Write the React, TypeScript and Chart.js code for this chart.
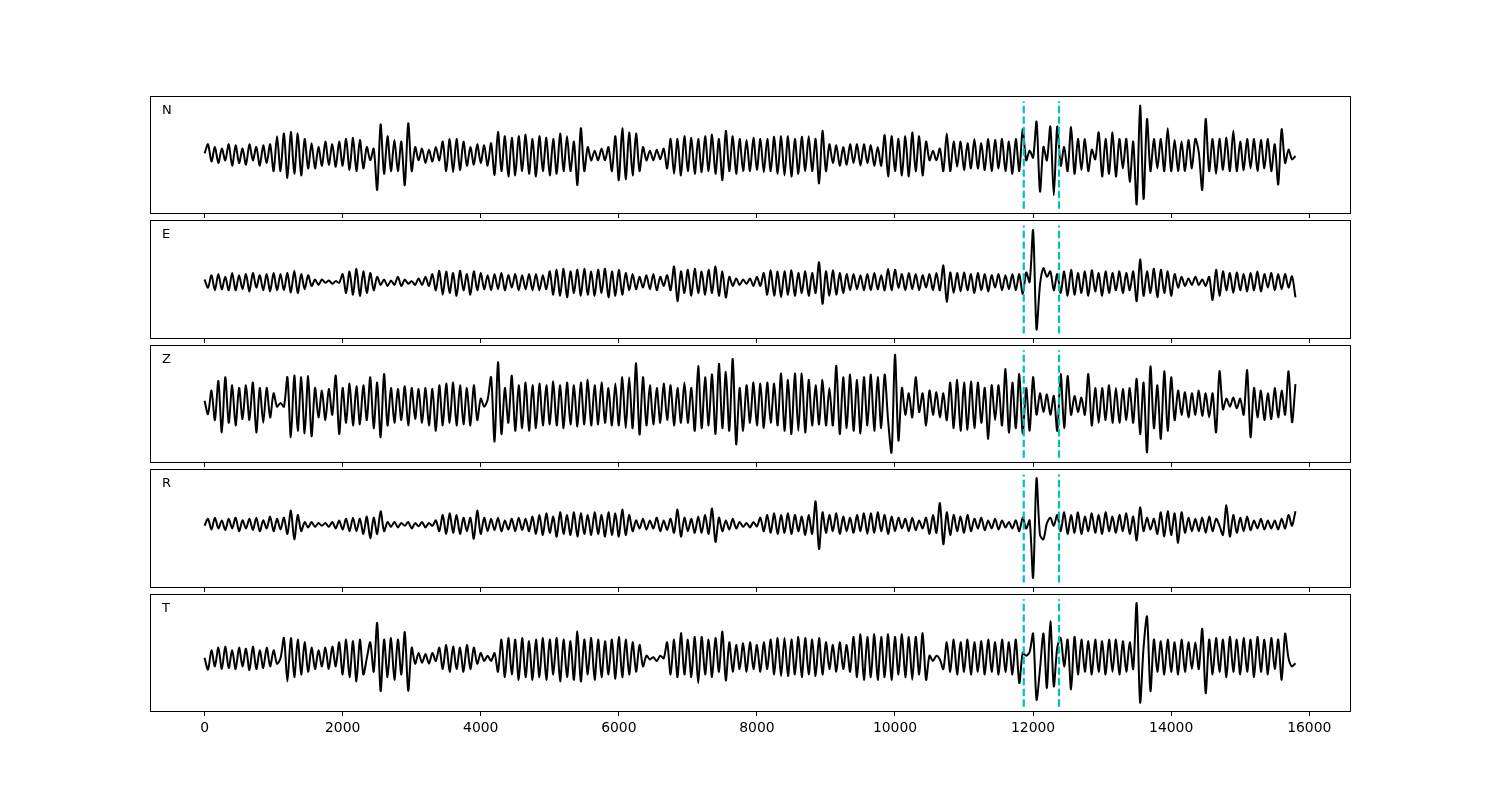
import React, { useEffect, useRef } from "react";
import { Chart, registerables } from "chart.js";

Chart.register(...registerables);

// ---- data ----
const SAMPLE_STEP = 50; // time units between samples
const X_TICKS = [0, 2000, 4000, 6000, 8000, 10000, 12000, 14000, 16000];
const PICKS = [11865, 12375];
const COMPONENTS = ["N", "E", "Z", "R", "T"];

const N_TRACE = [
  0.03, 0.2, -0.12, 0.15, -0.15, 0.12, -0.1, 0.2, -0.2, 0.18, -0.15, 0.12, -0.18, 0.2, -0.1, 0.15, -0.2, 0.18, -0.15, 0.2, -0.3, 0.35, -0.3, 0.4,
  -0.43, 0.43, -0.35, 0.4, -0.38, 0.3, -0.25, 0.22, -0.25, 0.15, -0.2, 0.25, -0.18, 0.2, -0.22, 0.25, -0.2, 0.3, -0.28, 0.32, -0.3, 0.28, -0.25, 0.15,
  -0.1, 0.12, -0.65, 0.57, -0.35, 0.35, -0.3, 0.28, -0.3, 0.25, -0.56, 0.59, -0.3, 0.15, -0.1, 0.12, -0.15, 0.1, -0.12, 0.15, -0.1, 0.25, -0.3, 0.3,
  -0.32, 0.3, -0.28, 0.25, -0.2, 0.15, -0.18, 0.2, -0.15, 0.18, -0.2, 0.22, -0.37, 0.43, -0.3, 0.35, -0.4, 0.32, -0.38, 0.35, -0.3, 0.38, -0.35, 0.3,
  -0.4, 0.35, -0.3, 0.32, -0.38, 0.3, -0.35, 0.4, -0.3, 0.35, -0.3, 0.25, -0.56, 0.5, -0.3, 0.15, -0.1, 0.08, -0.1, 0.12, -0.1, 0.15, -0.3, 0.35,
  -0.47, 0.5, -0.45, 0.42, -0.38, 0.4, -0.3, 0.15, -0.1, 0.08, -0.1, 0.1, -0.08, 0.12, -0.25, 0.3, -0.35, 0.3, -0.38, 0.35, -0.3, 0.32, -0.35, 0.3,
  -0.32, 0.35, -0.3, 0.38, -0.35, 0.3, -0.47, 0.45, -0.3, 0.35, -0.35, 0.3, -0.3, 0.28, -0.3, 0.32, -0.28, 0.3, -0.32, 0.3, -0.3, 0.34, -0.35, 0.35,
  -0.38, 0.35, -0.4, 0.3, -0.35, 0.34, -0.3, 0.35, -0.3, 0.3, -0.53, 0.45, -0.3, 0.2, -0.15, 0.18, -0.2, 0.15, -0.18, 0.2, -0.15, 0.2, -0.2, 0.2,
  -0.15, 0.18, -0.2, 0.15, -0.2, 0.37, -0.4, 0.35, -0.3, 0.3, -0.38, 0.35, -0.4, 0.42, -0.3, 0.35, -0.38, 0.25, -0.1, 0.08, -0.1, 0.12, -0.3, 0.4,
  -0.3, 0.25, -0.22, 0.25, -0.28, 0.22, -0.25, 0.3, -0.25, 0.22, -0.28, 0.3, -0.3, 0.28, -0.25, 0.3, -0.3, 0.25, -0.35, 0.3, -0.3, 0.48, -0.1, 0.08,
  -0.05, 0.62, -0.68, 0.15, -0.1, 0.53, -0.75, 0.53, -0.2, 0.15, -0.3, 0.52, -0.35, 0.3, -0.28, 0.3, -0.3, 0.1, -0.08, 0.42, -0.4, 0.3, -0.35, 0.42,
  -0.4, 0.3, -0.25, 0.3, -0.5, 0.25, -0.92, 0.92, -0.82, 0.67, -0.3, 0.3, -0.25, 0.3, -0.3, 0.5, -0.3, 0.28, -0.3, 0.25, -0.3, 0.28, -0.25, 0.3,
  0.05, -0.65, 0.67, -0.3, 0.3, -0.35, 0.3, -0.28, 0.32, -0.3, 0.45, -0.3, 0.25, -0.28, 0.3, -0.25, 0.3, -0.3, 0.28, -0.25, 0.3, -0.3, 0.2, -0.55,
  0.48, -0.15, 0.1, -0.08, -0.02,
];

const E_TRACE = [
  0.0, -0.15, 0.08, -0.2, 0.1, -0.18, 0.05, -0.2, 0.12, -0.2, 0.08, -0.18, 0.1, -0.22, 0.12, -0.15, 0.08, -0.2, 0.1, -0.22, 0.12, -0.2, 0.1, -0.2,
  0.12, -0.24, 0.16, -0.25, 0.1, -0.18, 0.08, -0.12, 0.0, -0.1, 0.0, -0.06, -0.02, -0.08, -0.03, -0.06, 0.1, -0.25, 0.15, -0.28, 0.2, -0.3, 0.15, -0.25,
  0.12, -0.2, 0.05, -0.1, 0.0, -0.12, -0.02, -0.1, 0.05, -0.12, 0.0, -0.08, -0.03, -0.1, 0.02, -0.1, 0.05, -0.12, 0.1, -0.2, 0.16, -0.28, 0.15, -0.25,
  0.12, -0.3, 0.16, -0.2, 0.1, -0.28, 0.15, -0.2, 0.12, -0.18, 0.08, -0.2, 0.1, -0.18, 0.12, -0.2, 0.08, -0.15, 0.1, -0.2, 0.08, -0.18, 0.1, -0.2,
  0.1, -0.2, 0.08, -0.18, 0.15, -0.28, 0.18, -0.3, 0.2, -0.33, 0.15, -0.25, 0.18, -0.3, 0.2, -0.28, 0.15, -0.3, 0.18, -0.25, 0.2, -0.33, 0.15, -0.3,
  0.18, -0.28, 0.12, -0.2, 0.1, -0.18, 0.05, -0.15, 0.08, -0.18, 0.1, -0.2, 0.05, -0.12, 0.08, -0.2, 0.24, -0.4, 0.15, -0.25, 0.18, -0.3, 0.2, -0.25,
  0.15, -0.28, 0.18, -0.25, 0.24, -0.3, 0.15, -0.33, 0.05, -0.12, 0.02, -0.1, 0.0, -0.08, 0.02, -0.12, 0.05, -0.12, 0.12, -0.28, 0.17, -0.3, 0.15, -0.33,
  0.15, -0.28, 0.17, -0.3, 0.12, -0.25, 0.15, -0.3, 0.12, -0.25, 0.32, -0.45, 0.15, -0.3, 0.17, -0.28, 0.12, -0.25, 0.1, -0.2, 0.1, -0.18, 0.08, -0.2,
  0.1, -0.2, 0.12, -0.18, 0.08, -0.2, 0.2, -0.2, 0.18, -0.15, 0.1, -0.2, 0.12, -0.18, 0.1, -0.2, 0.08, -0.15, 0.1, -0.2, 0.12, -0.2, 0.26, -0.41,
  0.13, -0.25, 0.12, -0.22, 0.13, -0.2, 0.1, -0.25, 0.12, -0.2, 0.1, -0.22, 0.08, -0.15, 0.1, -0.2, 0.08, -0.18, 0.1, -0.2, 0.1, -0.27, 0.13, -0.05,
  0.91, -0.92, -0.1, 0.21, 0.05, 0.15, -0.2, 0.1, -0.25, 0.15, -0.3, 0.18, -0.28, 0.12, -0.25, 0.15, -0.3, 0.17, -0.22, 0.12, -0.3, 0.15, -0.25, 0.12,
  -0.2, 0.15, -0.25, 0.12, -0.2, 0.15, -0.4, 0.37, -0.3, 0.15, -0.25, 0.2, -0.33, 0.18, -0.25, 0.15, -0.3, 0.1, -0.15, 0.05, -0.12, 0.02, -0.1, 0.05,
  -0.1, 0.0, -0.12, 0.05, -0.38, 0.18, -0.3, 0.15, -0.2, 0.12, -0.25, 0.13, -0.2, 0.1, -0.22, 0.12, -0.2, 0.15, -0.22, 0.1, -0.15, 0.12, -0.2, 0.1,
  -0.18, 0.1, -0.15, 0.06, -0.33,
];

const Z_TRACE = [
  0.06, -0.19, 0.25, -0.3, 0.43, -0.53, 0.5, -0.35, 0.35, -0.4, 0.3, -0.28, 0.35, -0.3, 0.4, -0.53, 0.3, -0.35, 0.3, -0.25, 0.2, -0.05, 0.02, -0.05,
  0.5, -0.62, 0.53, -0.5, 0.5, -0.55, 0.52, -0.6, 0.3, -0.25, 0.25, -0.3, 0.28, -0.2, 0.53, -0.56, 0.3, -0.35, 0.38, -0.4, 0.33, -0.38, 0.35, -0.3,
  0.5, -0.45, 0.4, -0.62, 0.56, -0.4, 0.3, -0.35, 0.28, -0.3, 0.33, -0.4, 0.3, -0.28, 0.28, -0.35, 0.3, -0.4, 0.28, -0.5, 0.35, -0.4, 0.38, -0.35,
  0.4, -0.4, 0.35, -0.38, 0.3, -0.4, 0.35, -0.3, 0.1, -0.05, 0.08, 0.5, -0.7, 0.78, -0.56, 0.3, -0.35, 0.53, -0.5, 0.35, -0.45, 0.4, -0.5, 0.35,
  -0.45, 0.38, -0.4, 0.35, -0.38, 0.42, -0.4, 0.35, -0.45, 0.4, -0.38, 0.35, -0.42, 0.4, -0.38, 0.45, -0.4, 0.35, -0.38, 0.4, -0.35, 0.3, -0.4, 0.38,
  -0.4, 0.5, -0.45, 0.5, -0.45, 0.76, -0.57, 0.5, -0.4, 0.35, -0.38, 0.3, -0.35, 0.38, -0.3, 0.35, -0.4, 0.3, -0.35, 0.4, -0.35, 0.3, -0.5, 0.71,
  -0.45, 0.5, -0.4, 0.55, -0.56, 0.75, -0.45, 0.6, -0.5, 0.84, -0.75, 0.3, -0.5, 0.35, -0.35, 0.4, -0.4, 0.38, -0.45, 0.4, -0.35, 0.38, -0.4, 0.57,
  -0.5, 0.45, -0.56, 0.57, -0.5, 0.57, -0.53, 0.45, -0.4, 0.35, -0.38, 0.45, -0.4, 0.3, -0.4, 0.71, -0.56, 0.5, -0.45, 0.55, -0.5, 0.45, -0.55, 0.5,
  -0.4, 0.55, -0.5, 0.5, -0.45, 0.55, -0.3, -0.9, 0.92, -0.68, 0.3, -0.2, 0.2, -0.25, 0.5, -0.15, 0.2, -0.4, 0.25, -0.2, 0.22, -0.25, 0.2, -0.3,
  0.4, -0.45, 0.45, -0.5, 0.4, -0.48, 0.42, -0.45, 0.4, -0.35, 0.3, -0.65, 0.35, -0.3, 0.35, -0.4, 0.65, -0.53, 0.4, -0.45, 0.56, -0.55, 0.3, -0.5,
  0.5, -0.2, 0.2, -0.15, 0.18, -0.2, 0.15, -0.5, 0.56, -0.45, 0.52, -0.2, 0.15, -0.15, 0.12, -0.2, 0.56, -0.4, 0.3, -0.35, 0.3, -0.3, 0.35, -0.35,
  0.3, -0.35, 0.28, -0.3, 0.3, -0.35, 0.47, -0.56, 0.4, -0.9, 0.7, -0.45, 0.35, -0.65, 0.61, -0.5, 0.5, -0.3, 0.25, -0.2, 0.22, -0.25, 0.2, -0.2,
  0.25, -0.22, 0.2, -0.25, 0.2, -0.53, 0.61, -0.1, 0.1, -0.05, 0.12, -0.08, 0.1, -0.2, 0.63, -0.62, 0.3, -0.25, 0.25, -0.3, 0.2, -0.28, 0.3, -0.25,
  0.25, -0.2, 0.61, -0.34, 0.37,
];

const R_TRACE = [
  0.05, 0.18, -0.02, 0.2, 0.0, 0.15, -0.03, 0.18, 0.0, 0.2, -0.05, 0.15, 0.0, 0.18, -0.03, 0.2, -0.05, 0.15, 0.0, 0.22, -0.05, 0.18, -0.02, 0.2,
  -0.1, 0.33, -0.2, 0.25, -0.05, 0.12, 0.02, 0.12, 0.03, 0.1, 0.05, 0.1, 0.03, 0.12, 0.0, 0.15, -0.02, 0.18, -0.05, 0.2, -0.05, 0.18, -0.1, 0.22,
  -0.18, 0.2, -0.1, 0.32, -0.05, 0.12, 0.03, 0.12, 0.02, 0.1, 0.05, 0.12, 0.0, 0.1, 0.04, 0.12, 0.02, 0.1, 0.05, 0.15, -0.05, 0.25, -0.1, 0.28,
  -0.08, 0.25, -0.1, 0.2, -0.05, 0.2, -0.19, 0.33, -0.1, 0.2, -0.05, 0.18, -0.03, 0.2, -0.05, 0.15, -0.02, 0.18, -0.05, 0.2, -0.03, 0.18, -0.05, 0.22,
  -0.1, 0.25, -0.12, 0.28, -0.08, 0.22, -0.15, 0.3, -0.1, 0.25, -0.12, 0.3, -0.15, 0.28, -0.1, 0.25, -0.12, 0.3, -0.1, 0.25, -0.15, 0.3, -0.12, 0.28,
  -0.15, 0.35, -0.12, 0.25, -0.05, 0.15, 0.0, 0.18, -0.02, 0.15, 0.0, 0.2, -0.05, 0.15, -0.03, 0.18, -0.08, 0.35, -0.15, 0.2, -0.05, 0.18, -0.08, 0.22,
  -0.08, 0.25, -0.1, 0.37, -0.25, 0.2, -0.05, 0.15, -0.02, 0.18, 0.0, 0.12, 0.03, 0.1, 0.02, 0.12, 0.04, 0.2, -0.05, 0.25, -0.08, 0.28, -0.1, 0.25,
  -0.08, 0.28, -0.1, 0.25, -0.05, 0.22, -0.12, 0.25, -0.1, 0.5, -0.38, 0.3, -0.08, 0.25, -0.05, 0.28, -0.1, 0.22, -0.05, 0.2, -0.08, 0.25, -0.05, 0.28,
  -0.1, 0.28, -0.08, 0.3, -0.05, 0.25, -0.1, 0.22, -0.05, 0.2, 0.0, 0.18, -0.05, 0.2, -0.03, 0.15, 0.0, 0.2, -0.1, 0.25, -0.08, 0.47, -0.29, 0.3,
  -0.12, 0.25, -0.05, 0.22, -0.08, 0.25, -0.05, 0.18, 0.0, 0.2, -0.03, 0.15, 0.0, 0.18, -0.02, 0.15, 0.02, 0.12, 0.0, 0.15, -0.05, 0.2, 0.0, 0.15,
  -0.91, 0.93, -0.12, -0.2, 0.1, 0.2, 0.05, 0.25, -0.05, 0.3, -0.1, 0.25, -0.08, 0.3, -0.1, 0.22, -0.05, 0.28, -0.08, 0.25, -0.1, 0.3, -0.05, 0.22,
  -0.08, 0.25, -0.05, 0.28, -0.1, 0.22, -0.22, 0.39, -0.05, 0.2, -0.02, 0.18, -0.1, 0.3, -0.15, 0.32, -0.12, 0.28, -0.27, 0.3, -0.08, 0.2, -0.05, 0.18,
  -0.05, 0.2, -0.08, 0.22, -0.05, 0.18, 0.05, -0.12, 0.43, -0.15, 0.25, -0.08, 0.2, -0.05, 0.22, -0.03, 0.15, 0.0, 0.18, -0.02, 0.15, 0.0, 0.15, -0.02,
  0.18, 0.0, 0.25, 0.05, 0.32,
];

const T_TRACE = [
  -0.09, -0.31, 0.05, -0.25, 0.1, -0.3, 0.12, -0.28, 0.05, -0.3, 0.1, -0.25, 0.08, -0.32, 0.12, -0.3, 0.05, -0.28, 0.1, -0.25, 0.05, -0.2, -0.1, 0.28,
  -0.53, 0.28, -0.45, 0.25, -0.4, 0.2, -0.35, 0.1, -0.3, 0.05, -0.25, 0.1, -0.3, 0.12, -0.25, 0.2, -0.4, 0.25, -0.45, 0.22, -0.53, 0.25, -0.4, -0.1,
  0.2, -0.35, 0.56, -0.71, 0.25, -0.45, 0.28, -0.5, 0.25, -0.4, 0.39, -0.7, 0.1, -0.2, 0.0, -0.18, -0.02, -0.2, 0.0, -0.15, 0.1, -0.3, 0.15, -0.35,
  0.12, -0.3, 0.1, -0.35, 0.15, -0.3, 0.1, -0.2, 0.0, -0.15, -0.05, -0.15, 0.0, -0.35, 0.25, -0.45, 0.28, -0.4, 0.25, -0.5, 0.28, -0.45, 0.22, -0.5,
  0.25, -0.45, 0.28, -0.5, 0.25, -0.4, 0.28, -0.53, 0.25, -0.45, 0.22, -0.5, 0.4, -0.53, 0.25, -0.4, 0.28, -0.5, 0.25, -0.45, 0.22, -0.4, 0.25, -0.48,
  0.3, -0.45, 0.25, -0.4, 0.2, -0.35, 0.15, -0.25, -0.05, -0.12, -0.08, -0.15, -0.05, -0.1, 0.2, -0.4, 0.25, -0.45, 0.37, -0.4, 0.25, -0.45, 0.3, -0.56,
  0.3, -0.4, 0.25, -0.45, 0.28, -0.35, 0.4, -0.51, 0.2, -0.35, 0.15, -0.3, 0.18, -0.35, 0.2, -0.3, 0.15, -0.35, 0.2, -0.3, 0.25, -0.4, 0.28, -0.43,
  0.28, -0.43, 0.25, -0.4, 0.3, -0.45, 0.28, -0.4, 0.25, -0.43, 0.28, -0.4, 0.2, -0.3, 0.15, -0.35, 0.2, -0.3, 0.15, -0.35, 0.3, -0.45, 0.35, -0.5,
  0.3, -0.45, 0.35, -0.5, 0.3, -0.45, 0.35, -0.5, 0.3, -0.4, 0.35, -0.45, 0.3, -0.5, 0.3, -0.4, 0.37, -0.5, -0.05, -0.15, -0.05, -0.12, -0.3, 0.2,
  -0.35, 0.25, -0.4, 0.2, -0.35, 0.25, -0.4, 0.2, -0.35, 0.22, -0.4, 0.25, -0.35, 0.2, -0.4, 0.25, -0.35, 0.2, -0.4, 0.25, -0.56, 0.0, -0.05, 0.02,
  0.36, -0.87, -0.3, 0.36, -0.65, 0.59, -0.62, 0.1, 0.28, -0.25, 0.25, -0.68, 0.3, -0.4, 0.25, -0.35, 0.22, -0.4, 0.25, -0.35, 0.22, -0.4, 0.25, -0.35,
  0.25, -0.4, 0.22, -0.35, 0.2, -0.3, 0.93, -0.92, 0.1, 0.68, -0.71, 0.25, -0.35, 0.22, -0.4, 0.25, -0.35, 0.2, -0.4, 0.25, -0.35, 0.2, -0.3, 0.2,
  -0.3, 0.45, -0.75, 0.25, -0.4, 0.28, -0.35, 0.25, -0.45, 0.3, -0.35, 0.25, -0.4, 0.28, -0.35, 0.25, -0.45, 0.3, -0.35, 0.25, -0.4, 0.28, -0.3, 0.25,
  -0.5, 0.36, -0.1, -0.25, -0.19,
];

const TRACES = [N_TRACE, E_TRACE, Z_TRACE, R_TRACE, T_TRACE];

// ---- layout (pixels) ----
const PANEL_TOPS = [96, 220, 345, 469, 594];
const PANEL_BOTTOMS = [214, 339, 463, 588, 712];
const PAD_TOP = 10;

const FONT = '"DejaVu Sans", "Liberation Sans", sans-serif';

function makeFramePlugin(label: string) {
  return {
    id: "frame",
    afterDraw(chart: any) {
      const { ctx, chartArea } = chart;
      const { left, top, right, bottom } = chartArea;
      ctx.save();
      ctx.strokeStyle = "#000";
      ctx.lineWidth = 1;
      ctx.strokeRect(left + 0.5, top + 0.5, right - left, bottom - top - 1);
      ctx.fillStyle = "#000";
      ctx.font = `13px ${FONT}`;
      ctx.textBaseline = "alphabetic";
      ctx.textAlign = "left";
      ctx.fillText(label, left + 12, top + 17.5);
      ctx.restore();
    },
  };
}

function Panel({ index }: { index: number }) {
  const ref = useRef<HTMLCanvasElement | null>(null);
  const isLast = index === TRACES.length - 1;
  const panelH = PANEL_BOTTOMS[index] - PANEL_TOPS[index];
  const axisH = isLast ? 32 : 6;
  const height = PAD_TOP + panelH + axisH;

  useEffect(() => {
    if (!ref.current) return;
    const values = TRACES[index];
    const chart = new Chart(ref.current, {
      type: "line",
      data: {
        datasets: [
          ...PICKS.map((p) => ({
            data: [
              { x: p, y: -1 },
              { x: p, y: 1 },
            ],
            borderColor: "#00BFBF",
            borderWidth: 2.2,
            borderDash: [7.4, 3.2],
            pointRadius: 0,
            tension: 0,
            order: 0,
          })),
          {
            data: values.map((v, i) => ({ x: i * SAMPLE_STEP, y: v })),
            borderColor: "#000",
            borderWidth: 2,
            pointRadius: 0,
            tension: 0.28,
            borderJoinStyle: "round",
            order: 1,
          },
        ],
      },
      options: {
        responsive: false,
        animation: false,
        devicePixelRatio: 1,
        events: [],
        layout: { padding: { left: 150, right: 150, top: PAD_TOP, bottom: 0 } },
        plugins: { legend: { display: false }, tooltip: { enabled: false } },
        scales: {
          x: {
            type: "linear",
            min: -790,
            max: 16590,
            afterBuildTicks: (s: any) => {
              s.ticks = X_TICKS.map((v) => ({ value: v }));
            },
            afterFit: (s: any) => {
              s.height = axisH;
            },
            border: { display: false },
            grid: {
              display: true,
              drawOnChartArea: false,
              drawTicks: true,
              tickLength: 4,
              color: "#000",
              lineWidth: 1,
            },
            ticks: {
              display: isLast,
              padding: 4,
              color: "#000",
              autoSkip: false,
              maxRotation: 0,
              font: { family: FONT, size: 13.9 },
              callback: (v: any) => String(v),
            },
          },
          y: { display: false, min: -1.1, max: 1.1 },
        },
      } as any,
      plugins: [makeFramePlugin(COMPONENTS[index])],
    });
    return () => chart.destroy();
  }, [index]);

  return (
    <canvas
      ref={ref}
      width={1500}
      height={height}
      style={{
        position: "absolute",
        left: 0,
        top: PANEL_TOPS[index] - PAD_TOP,
        width: 1500,
        height,
      }}
    />
  );
}

export default function App() {
  return (
    <div
      style={{
        position: "absolute",
        left: 0,
        top: 0,
        width: 1500,
        height: 800,
        background: "#fff",
      }}
    >
      {COMPONENTS.map((_, i) => (
        <Panel key={i} index={i} />
      ))}
    </div>
  );
}
